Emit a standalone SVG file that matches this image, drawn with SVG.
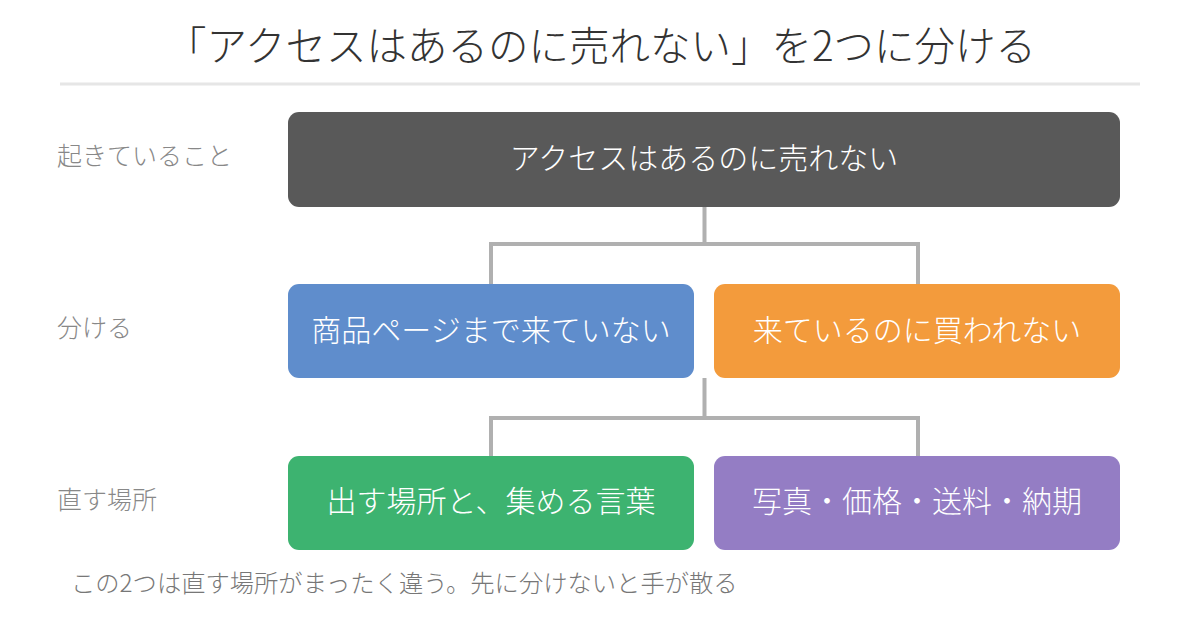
<svg xmlns="http://www.w3.org/2000/svg" width="1200" height="640" viewBox="0 0 1200 640">
  <style>
    text { font-family: "Noto Sans CJK JP", "Noto Sans", sans-serif; font-weight: 300; }
    .title { font-size: 40.5px; fill: #333333; text-anchor: middle; }
    .side { font-size: 25px; fill: #888888; }
    .node-text { font-size: 30px; fill: #ffffff; text-anchor: middle; dominant-baseline: central; }
    .note { font-size: 24.3px; fill: #777777; }
    .conn { fill: none; stroke: #b0b0b0; stroke-width: 4; }
  </style>
  <rect width="1200" height="640" fill="#ffffff"/>
  <text class="title" x="601" y="61">「アクセスはあるのに売れない」を2つに分ける</text>
  <line x1="60" y1="84" x2="1140" y2="84" stroke="#e6e6e6" stroke-width="3"/>

  <text class="side" x="57" y="165">起きていること</text>
  <text class="side" x="57" y="337">分ける</text>
  <text class="side" x="57" y="509">直す場所</text>

  <g id="connectors">
    <path class="conn" d="M704.5 207 V244 M491 244 H918 M491 242 V284 M918 242 V284"/>
    <path class="conn" d="M704.5 378 V418 M491 418 H918 M491 416 V456 M918 416 V456"/>
  </g>

  <g id="node-top">
    <rect x="288" y="112" width="832" height="95" rx="11" fill="#595959"/>
    <text class="node-text" x="704" y="156">アクセスはあるのに売れない</text>
  </g>
  <g id="node-blue">
    <rect x="288" y="284" width="406" height="94" rx="11" fill="#5f8dcc"/>
    <text class="node-text" x="491" y="328">商品ページまで来ていない</text>
  </g>
  <g id="node-orange">
    <rect x="714" y="284" width="406" height="94" rx="11" fill="#f39b3c"/>
    <text class="node-text" x="917" y="328">来ているのに買われない</text>
  </g>
  <g id="node-green">
    <rect x="288" y="456" width="406" height="94" rx="11" fill="#3db370"/>
    <text class="node-text" x="491" y="499">出す場所と、集める言葉</text>
  </g>
  <g id="node-purple">
    <rect x="714" y="456" width="406" height="94" rx="11" fill="#947dc4"/>
    <text class="node-text" x="917" y="499">写真・価格・送料・納期</text>
  </g>

  <text class="note" x="71" y="592">この2つは直す場所がまったく違う。先に分けないと手が散る</text>
</svg>
